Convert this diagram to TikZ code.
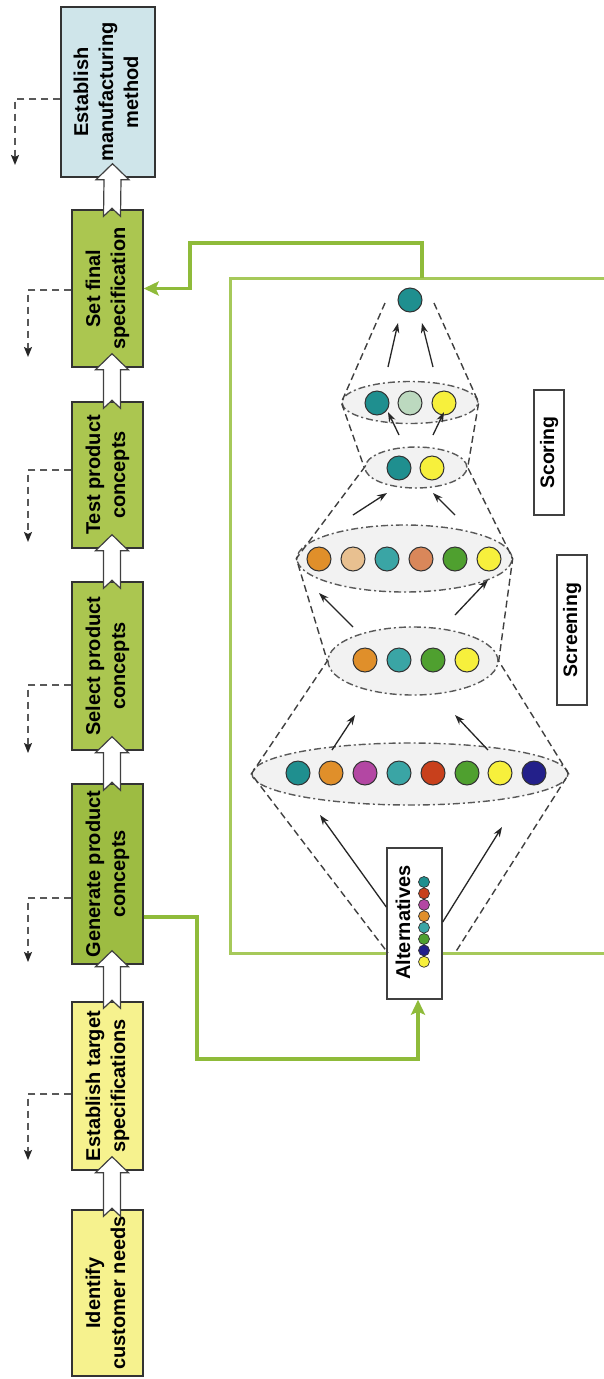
\documentclass[tikz,border=0pt]{standalone}
\usepackage{fontspec}
\setmainfont{Liberation Sans}
\usepackage{graphicx}
\usetikzlibrary{shapes.geometric,arrows.meta,calc}
\definecolor{gbox}{HTML}{ABC650}
\definecolor{gboxd}{HTML}{9DBC42}
\definecolor{ybox}{HTML}{F6F28E}
\definecolor{bbox}{HTML}{CFE5EA}
\definecolor{gline}{HTML}{8FBB3A}
\definecolor{grect}{HTML}{A6C95A}
\definecolor{cteal}{HTML}{1F8F8F}
\definecolor{cteal2}{HTML}{3AA5A5}
\definecolor{corange}{HTML}{E08F2A}
\definecolor{ctan}{HTML}{E8C090}
\definecolor{csalmon}{HTML}{D9875A}
\definecolor{cgreen}{HTML}{4FA02F}
\definecolor{cyellow}{HTML}{F7F03C}
\definecolor{cmag}{HTML}{B347A3}
\definecolor{cred}{HTML}{C8401C}
\definecolor{cnavy}{HTML}{23208A}
\definecolor{cpale}{HTML}{BCD9BF}
\definecolor{efill}{HTML}{F2F2F2}
\newcommand\rtext[1]{\rotatebox{90}{\begin{tabular}{@{}c@{}}#1\end{tabular}}}
\newcommand\blockarr[2]{%
  \draw[barrow] ([xshift=4.5pt,yshift=14pt]#1.south) -- ([xshift=21pt,yshift=-2pt]#1.south)
   -- ([xshift=13pt,yshift=-2pt]#1.south) -- ([xshift=13pt,yshift=-7pt]#2.north)
   -- ([xshift=4.5pt,yshift=1pt]#2.north) -- ([xshift=-4pt,yshift=-7pt]#2.north)
   -- ([xshift=-4pt,yshift=-2pt]#1.south) -- ([xshift=-12pt,yshift=-2pt]#1.south) -- cycle;}
\begin{document}
\begin{tikzpicture}[x=1pt,y=-1pt,
  stage/.style={draw=black!80, line width=1.4pt, inner sep=0pt, minimum width=71pt,
    font=\fontsize{20}{25}\selectfont\bfseries},
  wbox/.style={draw=black!75, line width=1.4pt, fill=white, inner sep=0pt,
    font=\fontsize{19.5}{24}\selectfont\bfseries},
  lbl/.style={inner sep=0pt, font=\fontsize{20}{24}\selectfont\bfseries},
  barrow/.style={draw=black!75, fill=white, line width=1.2pt, line join=miter},
  dside/.style={draw=black!65, dash pattern=on 7pt off 5pt, line width=1.5pt,
    -{Stealth[length=10pt,width=8pt,inset=2pt,color=black!85]}},
  garr/.style={draw=gline, line width=3.5pt, -{Stealth[length=15pt,width=14pt,inset=3pt]}},
  rline/.style={draw=grect, line width=3pt},
  grp/.style={ellipse, draw=black!65, dash pattern=on 7pt off 3pt on 2pt off 3pt,
    line width=1.4pt, fill=efill, inner sep=0pt},
  ball/.style={circle, draw=black!80, line width=1pt, minimum size=24pt, inner sep=0pt, fill=#1},
  sball/.style={circle, draw=black!80, line width=0.7pt, minimum size=11pt, inner sep=0pt, fill=#1},
  fline/.style={draw=black!75, dash pattern=on 7pt off 4pt, line width=1.4pt},
  farr/.style={draw=black!85, line width=1.3pt, -{Stealth[length=10pt,width=7pt]}}
]
\fill[white] (0,0) rectangle (604,1379);
\useasboundingbox (0,0) rectangle (604,1379);

% ---------- stage boxes ----------
\node[stage, fill=bbox, minimum width=94pt, minimum height=170pt] (s1) at (108,92)
  {\rtext{Establish\\manufacturing\\method}};
\node[stage, fill=gbox, minimum height=157pt] (s2) at (107.5,288.5) {\rtext{Set final\\specification}};
\node[stage, fill=gbox, minimum height=146pt] (s3) at (107.5,475) {\rtext{Test product\\concepts}};
\node[stage, fill=gbox, minimum height=168pt] (s4) at (107.5,666) {\rtext{Select product\\concepts}};
\node[stage, fill=gboxd, minimum height=180pt] (s5) at (107.5,874) {\rtext{Generate product\\concepts}};
\node[stage, fill=ybox, minimum height=168pt] (s6) at (107.5,1086) {\rtext{Establish target\\specifications}};
\node[stage, fill=ybox, minimum height=166pt] (s7) at (107.5,1293) {\rtext{Identify\\customer needs}};

\blockarr{s1}{s2}
\blockarr{s2}{s3}
\blockarr{s3}{s4}
\blockarr{s4}{s5}
\blockarr{s5}{s6}
\blockarr{s6}{s7}

% ---------- dashed side arrows ----------
\coordinate (d1) at (15,165);
\coordinate (d2) at (28,357);
\coordinate (d3) at (28,542);
\coordinate (d4) at (28,753);
\coordinate (d5) at (28,962);
\coordinate (d6) at (28,1160);
\draw[dside] (s1.west |- 0,99) -| (d1);
\draw[dside] (s2.west |- 0,290) -| (d2);
\draw[dside] (s3.west |- 0,470) -| (d3);
\draw[dside] (s4.west |- 0,685) -| (d4);
\draw[dside] (s5.west |- 0,898) -| (d5);
\draw[dside] (s6.west |- 0,1094) -| (d6);

% ---------- alternatives box ----------
\node[wbox, minimum width=55pt, minimum height=151pt] (alt) at (414.5,923.5) {};
\node[lbl, rotate=90] (altlbl) at (403,922.5) {Alternatives};
\foreach \c [count=\i from 0] in {cteal,cred,cmag,corange,cteal2,cgreen,cnavy,cyellow}
  \node[sball=\c] (al\i) at (424,{882+11.4*\i}) {};

% ---------- big green frame ----------
\draw[rline] (606,278) -- (230,278) -- (230,953) -- (alt.west |- 0,953);
\draw[rline] (alt.east |- 0,953) -- (606,953);

% ---------- groups (ellipses) ----------
\node[grp, minimum width=316pt, minimum height=62pt] (eA) at (410,774) {};
\node[grp, minimum width=170pt, minimum height=68pt] (eB) at (413,661) {};
\node[grp, minimum width=215pt, minimum height=67pt] (eC) at (404.5,558.5) {};
\node[grp, minimum width=102pt, minimum height=41pt] (eD) at (416,467.5) {};
\node[grp, minimum width=136pt, minimum height=42pt] (eE) at (410,402.5) {};

% funnel outline
\coordinate (tl) at (385,303);
\coordinate (tr) at (434,303);
\coordinate (fL) at (388,953);
\coordinate (fR) at (455,953);
\draw[fline] (tl) -- (eE.west) -- (eD.west) -- (eC.west) -- (eB.west) -- (eA.west) -- (fL);
\draw[fline] (tr) -- (eE.east) -- (eD.east) -- (eC.east) -- (eB.east) -- (eA.east) -- (fR);

% ---------- circles ----------
\node[ball=cteal] (top) at (410,300) {};
\foreach \x/\c [count=\i] in {377/cteal,410/cpale,444/cyellow}
  \node[ball=\c] (E\i) at (\x,403) {};
\foreach \x/\c [count=\i] in {399/cteal,432/cyellow}
  \node[ball=\c] (D\i) at (\x,468) {};
\foreach \x/\c [count=\i] in {319/corange,353/ctan,387/cteal2,421/csalmon,455/cgreen,489/cyellow}
  \node[ball=\c] (C\i) at (\x,559) {};
\foreach \x/\c [count=\i] in {365/corange,399/cteal2,433/cgreen,467/cyellow}
  \node[ball=\c] (B\i) at (\x,660) {};
\foreach \x/\c [count=\i] in {298/cteal,331/corange,365/cmag,399/cteal2,433/cred,467/cgreen,500/cyellow,534/cnavy}
  \node[ball=\c] (A\i) at (\x,773) {};

% ---------- funnel arrows ----------
\coordinate (pa1) at (320,815);
\coordinate (pa2) at (502,827);
\draw[farr] (alt.west |- 0,907) -- (pa1);
\draw[farr] (alt.east |- 0,922) -- (pa2);
\draw[farr] (332,750) -- (355,715);
\draw[farr] (488,750) -- (455,715);
\draw[farr] (353,627) -- (319,593);
\draw[farr] (455,615) -- (488,580);
\draw[farr] (353,515) -- (387,493);
\draw[farr] (455,515) -- (433,493);
\draw[farr] (399,435) -- (388,412);
\draw[farr] (433,435) -- (444,412);
\draw[farr] (388,367) -- (398,323);
\draw[farr] (433,367) -- (422,323);

% ---------- phase labels ----------
\node[wbox, minimum width=30pt, minimum height=125pt] (scor) at (549,452.5) {\rotatebox{90}{Scoring}};
\node[wbox, minimum width=30pt, minimum height=150pt] (scre) at (572,630) {\rotatebox{90}{Screening}};

% ---------- green connectors ----------
\coordinate (rt) at (422,278);
\draw[garr] (rt) -- (422,243) -- (190,243) |- (s2.east);
\draw[garr] (s5.east |- 0,917) -- (197,917) -- (197,1059) -| ([xshift=3.5pt]alt.south);
\end{tikzpicture}
\end{document}
